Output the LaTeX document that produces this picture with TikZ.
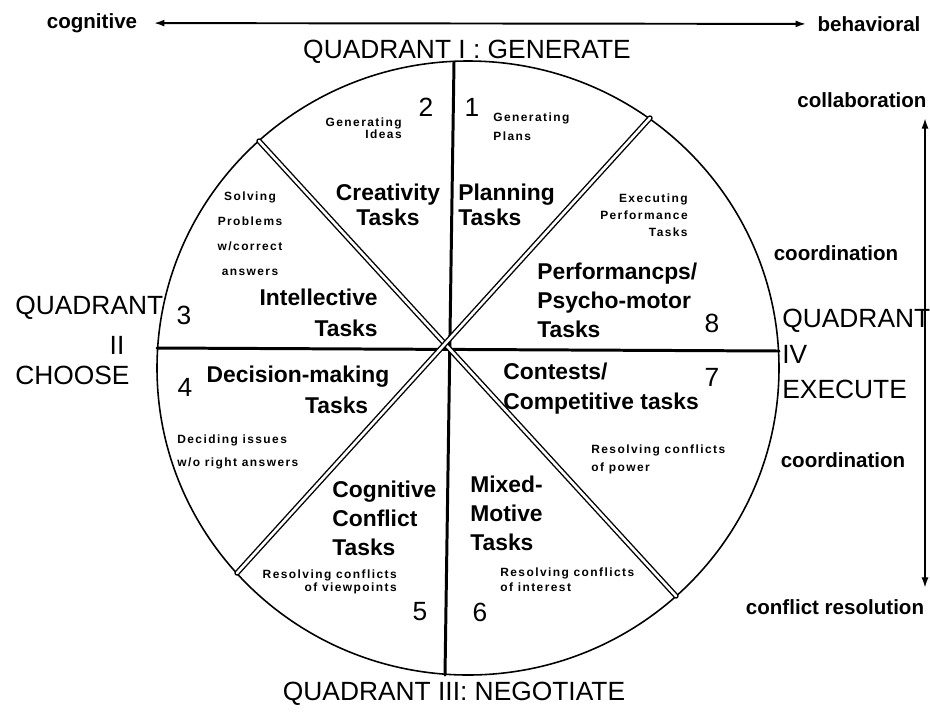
\documentclass[tikz,border=0pt]{standalone}
\usepackage{fontspec}
\setmainfont{Liberation Sans}
\newfontfamily\descfont[LetterSpace=12]{Liberation Sans}
\usetikzlibrary{arrows.meta}

\begin{document}
\begin{tikzpicture}[x=0.02cm, y=-0.02cm, line join=round, line cap=round,
    >={Latex[length=6pt,width=4pt]}]
    % label and line styles
    \tikzset{
      quad/.style={font=\fontsize{15}{20}\selectfont, inner sep=0pt},
      num/.style={font=\fontsize{15}{18}\selectfont, inner sep=0pt},
      task/.style={font=\bfseries\fontsize{13}{#1}\selectfont, inner sep=0pt},
      task/.default=16.5,
      desc/.style={font=\descfont\bfseries\fontsize{6.8}{#1}\selectfont, inner sep=0pt},
      desc/.default=9.7,
      axis/.style={font=\bfseries\fontsize{11.7}{14}\selectfont},
      spoke/.style={line width=1.7pt},
      split/.style={double, double distance=1.5pt, line width=0.8pt}
    }

    \useasboundingbox (0,0) rectangle (930,711);

    % rim points of the wheel
    \coordinate (ctr) at (450,349);
    \coordinate (rimN) at (454,62);
    \coordinate (rimS) at (445,675);
    \coordinate (rimW) at (157,348);
    \coordinate (rimE) at (779,351);
    \coordinate (rimNW) at (259,141);
    \coordinate (rimNE) at (650,118);
    \coordinate (rimSW) at (237,573);
    \coordinate (rimSE) at (676,596);

    % wheel
    \draw[line width=0.9pt] (468,368) ellipse [x radius=311, y radius=307];
    \draw[spoke] (rimN) -- (rimS);
    \draw[spoke] (rimW) -- (rimE);
    \draw[split] (rimNW) -- (rimSE);
    \draw[split] (rimNE) -- (rimSW);

    % quadrant names
    \node[quad] (q1) at (467,52) {QUADRANT I : GENERATE};
    \node[quad] (q3) at (454,694) {QUADRANT III: NEGOTIATE};
    \node[quad, anchor=west] (q2a) at (15,308) {QUADRANT};
    \node[quad] (q2b) at (117,345) {II};
    \node[quad, anchor=west] (q2c) at (15,375) {CHOOSE};
    \node[quad, anchor=west, align=left] (q4) at (782,354) {QUADRANT\\IV\\EXECUTE};

    % sector numbers
    \node[num] (n1) at (472,107) {1};
    \node[num] (n2) at (426,107) {2};
    \node[num] (n3) at (184,315) {3};
    \node[num] (n4) at (185,387) {4};
    \node[num] (n5) at (420,612) {5};
    \node[num] (n6) at (480,612) {6};
    \node[num] (n7) at (712,377) {7};
    \node[num] (n8) at (712,323) {8};

    % task types
    \node[task=14.2, anchor=west, align=left] (t1) at (458,205) {Planning\\Tasks};
    \node[task=14.2, align=center] (t2) at (388,205) {Creativity\\Tasks};
    \node[task=17.6, anchor=east, align=right] (t3) at (378,313) {Intellective\\Tasks};
    \node[task=18, align=center] (t4) at (298,390) {Decision-making\\\hspace*{44pt}Tasks};
    \node[task, anchor=west, align=left] (t5) at (332,518) {Cognitive\\Conflict\\Tasks};
    \node[task, anchor=west, align=left] (t6) at (470,513) {Mixed-\\Motive\\Tasks};
    \node[task=17, anchor=west, align=left] (t7) at (503,389) {Contests/\\Competitive tasks};
    \node[task, anchor=west, align=left] (t8) at (537,300) {Performancps/\\Psycho-motor\\Tasks};

    % what each task is about
    \node[desc=10.8, anchor=west, align=left] (d1) at (493,127) {Generating\\Plans};
    \node[desc=6.8, anchor=east, align=right] (d2) at (402,128) {Generating\\Ideas};
    \node[desc=14.2, align=center] (d3) at (250,234) {Solving\\Problems\\w/correct\\answers};
    \node[desc=13, anchor=west, align=left] (d4) at (177,452) {Deciding issues\\w/o right answers};
    \node[desc=7.4, anchor=east, align=right] (d5) at (397,582) {Resolving conflicts\\of viewpoints};
    \node[desc=8.5, anchor=west, align=left] (d6) at (500,580) {Resolving conflicts\\of interest};
    \node[desc=10.2, anchor=west, align=left] (d7) at (591,459) {Resolving conflicts\\of power};
    \node[desc, anchor=east, align=right] (d8) at (688,215) {Executing\\Performance\\Tasks};

    % cognitive / behavioral axis
    \node[axis] (cog) at (92,23) {cognitive};
    \node[axis] (beh) at (869,24) {behavioral};
    \draw[<->, line width=1.1pt, shorten <=6pt, shorten >=3pt] (cog) -- (beh);

    % collaboration / conflict resolution axis
    \node[axis] (collab) at (862,100) {collaboration};
    \node[axis] (coord1) at (836,253) {coordination};
    \node[axis] (coord2) at (843,460) {coordination};
    \node[axis] (confl) at (835,607) {conflict resolution};
    \coordinate (cTop) at (925,118);
    \coordinate (cBot) at (925,588);
    \draw[<->, line width=1.1pt] (cTop) -- (cBot);
  \end{tikzpicture}
\end{document}
